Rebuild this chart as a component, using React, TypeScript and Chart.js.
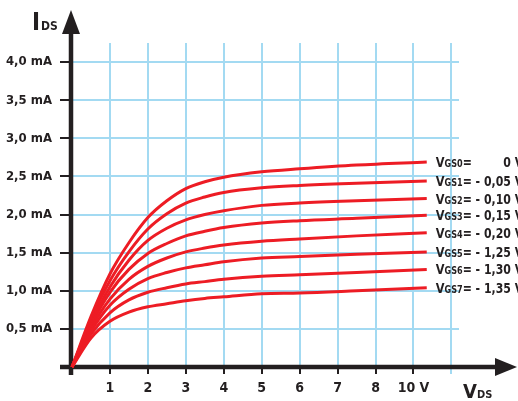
import React, { useEffect, useRef } from 'react';
import { Chart, registerables } from 'chart.js';

Chart.register(...registerables);

// ---- data ----
const VDS = [0, 0.5, 1, 1.5, 2, 2.5, 3, 3.5, 4, 5, 6, 7.5, 9.35];
const IDS_VGS0 = [0, 0.66, 1.22, 1.63, 1.96, 2.18, 2.34, 2.43, 2.49, 2.56, 2.6, 2.65, 2.69];
const IDS_VGS1 = [0, 0.62, 1.13, 1.51, 1.81, 2.01, 2.15, 2.23, 2.29, 2.35, 2.38, 2.41, 2.44];
const IDS_VGS2 = [0, 0.58, 1.05, 1.4, 1.66, 1.82, 1.93, 2.0, 2.05, 2.12, 2.15, 2.18, 2.21];
const IDS_VGS3 = [0, 0.55, 0.98, 1.28, 1.49, 1.62, 1.72, 1.78, 1.83, 1.89, 1.92, 1.95, 1.99];
const IDS_VGS4 = [0, 0.51, 0.89, 1.15, 1.32, 1.43, 1.51, 1.56, 1.6, 1.65, 1.68, 1.72, 1.76];
const IDS_VGS5 = [0, 0.47, 0.81, 1.02, 1.16, 1.24, 1.3, 1.34, 1.38, 1.43, 1.45, 1.48, 1.51];
const IDS_VGS6 = [0, 0.43, 0.71, 0.88, 0.98, 1.04, 1.09, 1.12, 1.15, 1.19, 1.21, 1.24, 1.28];
const IDS_VGS7 = [0, 0.38, 0.6, 0.72, 0.79, 0.83, 0.87, 0.9, 0.92, 0.96, 0.97, 1.0, 1.04];
const SERIES = [IDS_VGS0, IDS_VGS1, IDS_VGS2, IDS_VGS3, IDS_VGS4, IDS_VGS5, IDS_VGS6, IDS_VGS7];

const VGS_INDEX = ['0', '1', '2', '3', '4', '5', '6', '7'];
const VGS_VALUES = ['0', '- 0,05', '- 0,10', '- 0,15', '- 0,20', '- 1,25', '- 1,30', '- 1,35'];

const X_TICKS = [0, 1, 2, 3, 4, 5, 6, 7, 8, 9, 10];
const X_TICK_LABELS = ['', '1', '2', '3', '4', '5', '6', '7', '8', '10 V', ''];
const Y_TICKS = [0, 0.5, 1, 1.5, 2, 2.5, 3, 3.5, 4];
const Y_TICK_LABELS = ['', '0,5 mA', '1,0 mA', '1,5 mA', '2,0 mA', '2,5 mA', '3,0 mA', '3,5 mA', '4,0 mA'];

// ---- style ----
const FONT = "'Liberation Sans Narrow', 'DejaVu Sans Condensed', 'Roboto Condensed', 'Arial Narrow', 'Liberation Sans', sans-serif";
const INK = '#231f20';
const GRID = '#a3daf2';
const RED = '#ed1c24';
const LABEL_SQUEEZE = 0.9;

const axesPlugin = {
  id: 'axesArrows',
  beforeDatasetsDraw(chart: any) {
    const { ctx, scales } = chart;
    const x0 = scales.x.getPixelForValue(0);
    const y0 = scales.y.getPixelForValue(0);
    ctx.save();
    ctx.strokeStyle = INK;
    ctx.fillStyle = INK;
    ctx.lineWidth = 4.5;
    ctx.lineCap = 'butt';
    // y axis
    ctx.beginPath();
    ctx.moveTo(x0 - 1, y0 + 8);
    ctx.lineTo(x0 - 1, 30);
    ctx.stroke();
    ctx.beginPath();
    ctx.moveTo(x0 - 1, 10);
    ctx.lineTo(x0 - 10, 34);
    ctx.lineTo(x0 + 8, 34);
    ctx.closePath();
    ctx.fill();
    // x axis
    ctx.beginPath();
    ctx.moveTo(x0 - 12, y0);
    ctx.lineTo(chart.width - 20, y0);
    ctx.stroke();
    ctx.beginPath();
    ctx.moveTo(chart.width - 1, y0);
    ctx.lineTo(chart.width - 23, y0 - 9);
    ctx.lineTo(chart.width - 23, y0 + 9);
    ctx.closePath();
    ctx.fill();
    ctx.restore();
  },
  afterDraw(chart: any) {
    const { ctx, chartArea } = chart;
    ctx.save();
    ctx.fillStyle = INK;
    ctx.textBaseline = 'alphabetic';
    ctx.textAlign = 'left';
    // I_DS title
    ctx.font = `bold 24px ${FONT}`;
    ctx.fillText('I', chartArea.left - 40, 30);
    let w = ctx.measureText('I').width;
    ctx.font = `bold 12px ${FONT}`;
    ctx.fillText('DS', chartArea.left - 40 + w + 1, 30);
    // V_DS title
    ctx.font = `bold 20px ${FONT}`;
    ctx.fillText('V', chartArea.right + 4, 398);
    w = ctx.measureText('V').width;
    ctx.font = `bold 11px ${FONT}`;
    ctx.fillText('DS', chartArea.right + 4 + w, 398);

    // right labels (slightly condensed to mimic the narrow typeface)
    const vFont = `bold 14px ${FONT}`;
    const numFont = `bold 13.5px ${FONT}`;
    const smallFont = `bold 10px ${FONT}`;
    SERIES.forEach((_, i) => {
      const meta = chart.getDatasetMeta(i);
      const last = meta.data[meta.data.length - 1];
      const x0 = last.x + 9;
      const y = last.y + 5;
      ctx.save();
      ctx.translate(x0, y);
      ctx.scale(LABEL_SQUEEZE, 1);
      let x = 0;
      ctx.textAlign = 'left';
      ctx.font = vFont;
      ctx.fillText('V', x, 0);
      x += ctx.measureText('V').width;
      ctx.font = smallFont;
      const sub = 'GS' + VGS_INDEX[i];
      ctx.fillText(sub, x, 0);
      x += ctx.measureText(sub).width;
      ctx.font = numFont;
      ctx.fillText('=', x, 0);
      x += ctx.measureText('= ').width;
      const ref = VGS_VALUES[1] + ' V';
      const val = VGS_VALUES[i] + ' V';
      if (i === 0) {
        ctx.textAlign = 'right';
        ctx.fillText(val, x + ctx.measureText(ref).width, 0);
      } else {
        ctx.fillText(val, x, 0);
      }
      ctx.restore();
    });
    ctx.restore();
  },
};

export default function App() {
  const ref = useRef<HTMLCanvasElement>(null);
  useEffect(() => {
    if (!ref.current) return;
    const chart = new Chart(ref.current, {
      type: 'line',
      data: {
        datasets: SERIES.map((s, i) => ({
          label: 'VGS' + VGS_INDEX[i],
          data: VDS.map((v, j) => ({ x: v, y: s[j] })),
          borderColor: RED,
          borderWidth: 3,
          pointRadius: 0,
          fill: false,
          cubicInterpolationMode: 'monotone' as const,
          clip: 8,
        })),
      },
      options: {
        animation: false,
        responsive: false,
        maintainAspectRatio: false,
        layout: { padding: { left: 0, top: 43, right: 59, bottom: 0 } },
        plugins: { legend: { display: false }, tooltip: { enabled: false } },
        scales: {
          x: {
            type: 'linear',
            min: 0,
            max: 10.2,
            afterBuildTicks: (s: any) => {
              s.ticks = X_TICKS.map((v) => ({ value: v }));
            },
            afterFit: (s: any) => {
              s.height = 34;
            },
            border: { display: false },
            grid: {
              color: GRID,
              lineWidth: 2,
              drawTicks: true,
              tickLength: 7,
              tickWidth: 2,
              tickColor: (c: any) => (c.index === 10 ? GRID : INK),
            },
            ticks: {
              autoSkip: false,
              maxRotation: 0,
              padding: 6,
              color: INK,
              font: { family: FONT, size: 14, weight: 'bold' },
              callback: (_v: any, i: number) => X_TICK_LABELS[i],
            },
          },
          y: {
            type: 'linear',
            min: 0,
            max: 4.25,
            afterBuildTicks: (s: any) => {
              s.ticks = Y_TICKS.map((v) => ({ value: v }));
            },
            afterFit: (s: any) => {
              s.width = 72;
            },
            border: { display: false },
            grid: {
              color: GRID,
              lineWidth: 2,
              drawTicks: true,
              tickLength: 12,
              tickWidth: 2,
              tickColor: INK,
            },
            ticks: {
              autoSkip: false,
              padding: 8,
              color: INK,
              font: { family: FONT, size: 13, weight: 'bold' },
              callback: (_v: any, i: number) => Y_TICK_LABELS[i],
            },
          },
        },
      },
      plugins: [axesPlugin],
    });
    return () => chart.destroy();
  }, []);
  return (
    <div style={{ position: 'absolute', left: 0, top: 0, width: 518, height: 401, background: '#fff' }}>
      <canvas ref={ref} width={518} height={401} style={{ display: 'block' }} />
    </div>
  );
}
